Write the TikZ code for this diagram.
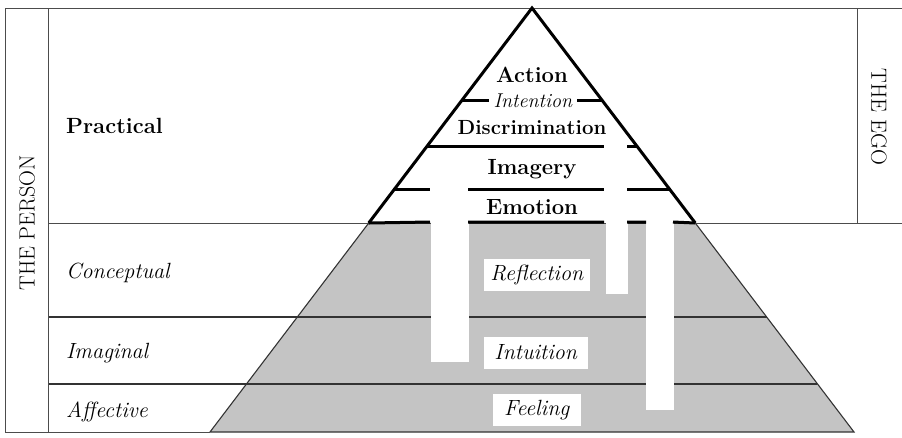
\documentclass[tikz,border=0pt]{standalone}
\usepackage{fontspec}
\usetikzlibrary{calc}

\tikzset{
  frameline/.style={draw=black!70, line width=1pt},
  thinline/.style={draw=black!80, line width=1.1pt},
  pyrline/.style={draw=black, line width=3pt},
  lbl/.style={font=\fontsize{22}{24}\selectfont, inner sep=0pt},
  lowbox/.style={lbl, fill=white, minimum height=32pt},
  slot/.style={fill=white, draw=none}
}

\begin{document}
\begin{tikzpicture}[x=1pt,y=-1pt]
    \useasboundingbox (0,0) rectangle (902,437);
    % corners of the pyramid
    \coordinate (apex) at (532,8);
    \coordinate (bl) at (210,432);
    \coordinate (br) at (854,432);
    \coordinate (ml) at ($(apex)!0.5071!(bl)$);
    \coordinate (mr) at ($(apex)!0.5071!(br)$);

    % lower (shaded) part
    \fill[black!23] (ml) -- (mr) -- (br) -- (bl) -- cycle;
    \draw[thinline] (49,317) -- (766.5,317);
    \draw[thinline] (49,384) -- (817,384);
    \draw[thinline] (ml) -- (bl) -- (br) -- (mr);

    % frame
    \draw[frameline] (5,8) -- (902,8);
    \draw[frameline] (5,8) -- (5,432) -- (bl);
    \draw[frameline] (48,8) -- (48,432);
    \draw[frameline] (857,8) -- (857,223);
    \draw[frameline] (48,223) -- (902,223);

    % white bars
    \fill[slot] (431,221) rectangle (469,362);
    \fill[slot] (606,221) rectangle (628,294);
    \fill[slot] (646,221) rectangle (674,410);

    % upper triangle
    \draw[pyrline, line join=miter] (ml) -- (apex) -- (mr);
    \draw[pyrline] (462,100) -- (489,100) (577,100) -- (602,100);
    \draw[pyrline] (427,146) -- (604,146) (627,146) -- (637,146);
    \draw[pyrline] (395,189) -- (430,189) (468,189) -- (604,189) (627,189) -- (669,189);
    \draw[pyrline] (ml) -- (430,222) (468,222) -- (604,222) (627,222) -- (646,222) (673,222) -- (mr);

    % labels in the pyramid
    \node[lbl, anchor=base] (action) at (532,82) {\textbf{Action}};
    \node[lbl, anchor=base, font=\fontsize{20}{22}\selectfont] (intention) at (533,107) {\textit{Intention}};
    \node[lbl, anchor=base, font=\fontsize{20.5}{23}\selectfont] (discr) at (532,134) {\textbf{Discrimination}};
    \node[lbl, anchor=base] (imagery) at (532,174) {\textbf{Imagery}};
    \node[lbl, anchor=base] (emotion) at (532,214) {\textbf{Emotion}};
    \node[lowbox, minimum width=106pt] (reflection) at (537,275) {\textit{Reflection}};
    \node[lowbox, minimum width=104pt] (intuition) at (536,352.5) {\textit{Intuition}};
    \node[lowbox, minimum width=88pt] (feeling) at (537,410) {\textit{Feeling}};

    % labels on the left
    \node[lbl, anchor=base west] (practical) at (66,133) {\textbf{Practical}};
    \node[lbl, anchor=base west] (conceptual) at (66,278) {\textit{Conceptual}};
    \node[lbl, anchor=base west] (imaginal) at (66,358) {\textit{Imaginal}};
    \node[lbl, anchor=base west] (affective) at (66,417) {\textit{Affective}};
    \node[lbl, rotate=90] (person) at (27,223) {THE PERSON};
    \node[lbl, rotate=-90] (ego) at (879,117) {THE EGO};
\end{tikzpicture}
\end{document}
